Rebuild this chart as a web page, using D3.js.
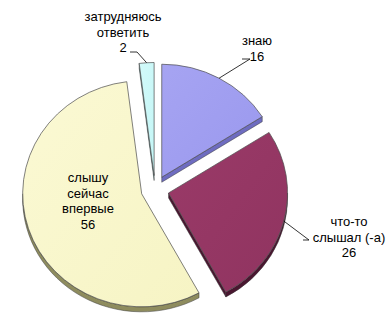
<!DOCTYPE html>
<html>
<head>
<meta charset="utf-8">
<script src="https://cdn.jsdelivr.net/npm/d3@7"></script>
<style>
  body { margin: 0; background: #fff; }
  text { font-family: "Liberation Sans", Arial, sans-serif; font-size: 13px; fill: #000; }
</style>
</head>
<body>
<div id="chart"></div>
<script>
// data
var categories = ["знаю", "что-то слышал (-а)", "слышу сейчас впервые", "затрудняюсь ответить"];
var values = [16, 26, 56, 2];
var labelLines = [["знаю", "16"], ["что-то", "слышал (-а)", "26"], ["слышу", "сейчас", "впервые", "56"], ["затрудняюсь", "ответить", "2"]];

var width = 392, height = 328;
var cx = 155, cy = 189.5, rx = 119, ry = 113, depth = 5, explode = 14;

var topColor = d3.scaleOrdinal().domain(categories).range(["#9a98ee", "#903460", "#f6f4c4", "#c4f6f6"]);
var lightColor = d3.scaleOrdinal().domain(categories).range(["#a6a4f2", "#9a3a68", "#fbf9d4", "#d2fafa"]);
var sideColor = d3.scaleOrdinal().domain(categories).range(["#6e6cc0", "#4a1630", "#8e8c5e", "#6aa8a8"]);

// label anchor (x centre, first baseline) and leader end (null = inside)
var labelLayout = [
    {x: 257, y: 45, lead: [250, 59, 242, 59]},
    {x: 349, y: 226, lead: [309, 240, 303, 240]},
    {x: 88, y: 182, lead: null},
    {x: 123, y: 21, lead: [137, 52, 130, 52]}
];

var svg = d3.select("#chart").append("svg")
    .attr("width", width)
    .attr("height", height);

var pie = d3.pie().sort(null).value(function (d) { return d; });
var arcs = pie(values);

function pt(a, ox, oy, dy) {
    return [ox + rx * Math.sin(a), oy - ry * Math.cos(a) + (dy || 0)];
}

arcs.forEach(function (d, i) {
    var mid = (d.startAngle + d.endAngle) / 2;
    d.ox = cx + explode * Math.sin(mid);
    d.oy = cy - explode * Math.cos(mid);
    d.mid = mid;
    d.cat = categories[i];
});

var defs = svg.append("defs");
arcs.forEach(function (d, i) {
    var g = defs.append("linearGradient")
        .attr("id", "grad" + i)
        .attr("x1", "0").attr("y1", "0").attr("x2", "1").attr("y2", "1");
    g.append("stop").attr("offset", "0%").attr("stop-color", lightColor(d.cat));
    g.append("stop").attr("offset", "100%").attr("stop-color", topColor(d.cat));
});

// side faces
var sides = svg.append("g");
arcs.forEach(function (d) {
    var a0 = d.startAngle, a1 = d.endAngle;
    var faces = [];
    if (Math.sin(a0) < -1e-6) faces.push(a0);
    if (Math.sin(a1) > 1e-6) faces.push(a1);
    faces.forEach(function (a) {
        var r = pt(a, d.ox, d.oy);
        sides.append("path")
            .attr("d", "M" + d.ox + "," + d.oy + "L" + r + "L" + r[0] + "," + (r[1] + depth) +
                "L" + d.ox + "," + (d.oy + depth) + "Z")
            .attr("fill", sideColor(d.cat))
            .attr("stroke", "#3a3a3a")
            .attr("stroke-width", 0.5);
    });
    var b0 = Math.max(a0, Math.PI / 2), b1 = Math.min(a1, 3 * Math.PI / 2);
    if (b0 < b1) {
        var p0 = pt(b0, d.ox, d.oy), p1 = pt(b1, d.ox, d.oy);
        var large = (b1 - b0) > Math.PI ? 1 : 0;
        sides.append("path")
            .attr("d", "M" + p0 + "A" + rx + "," + ry + " 0 " + large + " 1 " + p1 +
                "L" + p1[0] + "," + (p1[1] + depth) +
                "A" + rx + "," + ry + " 0 " + large + " 0 " + p0[0] + "," + (p0[1] + depth) + "Z")
            .attr("fill", sideColor(d.cat))
            .attr("stroke", "#3a3a3a")
            .attr("stroke-width", 0.5);
    }
});

// top faces
svg.append("g").selectAll("path")
    .data(arcs)
    .join("path")
    .attr("d", function (d) {
        var s = pt(d.startAngle, d.ox, d.oy), e = pt(d.endAngle, d.ox, d.oy);
        var large = (d.endAngle - d.startAngle) > Math.PI ? 1 : 0;
        return "M" + d.ox + "," + d.oy + "L" + s + "A" + rx + "," + ry + " 0 " + large + " 1 " + e + "Z";
    })
    .attr("fill", function (d, i) { return "url(#grad" + i + ")"; })
    .attr("stroke", "#4a4a4a")
    .attr("stroke-width", 0.7);

// leader lines
arcs.forEach(function (d, i) {
    var L = labelLayout[i].lead;
    if (!L) return;
    var r = pt(d.mid, d.ox, d.oy);
    svg.append("path")
        .attr("d", "M" + r + "L" + L[0] + "," + L[1] + "L" + L[2] + "," + L[3])
        .attr("fill", "none")
        .attr("stroke", "#000")
        .attr("stroke-width", 0.8);
});

// labels
arcs.forEach(function (d, i) {
    var lay = labelLayout[i];
    var t = svg.append("text")
        .attr("text-anchor", "middle");
    labelLines[i].forEach(function (line, k) {
        t.append("tspan")
            .attr("x", lay.x)
            .attr("y", lay.y + k * 15.6)
            .text(line);
    });
});
</script>
</body>
</html>
